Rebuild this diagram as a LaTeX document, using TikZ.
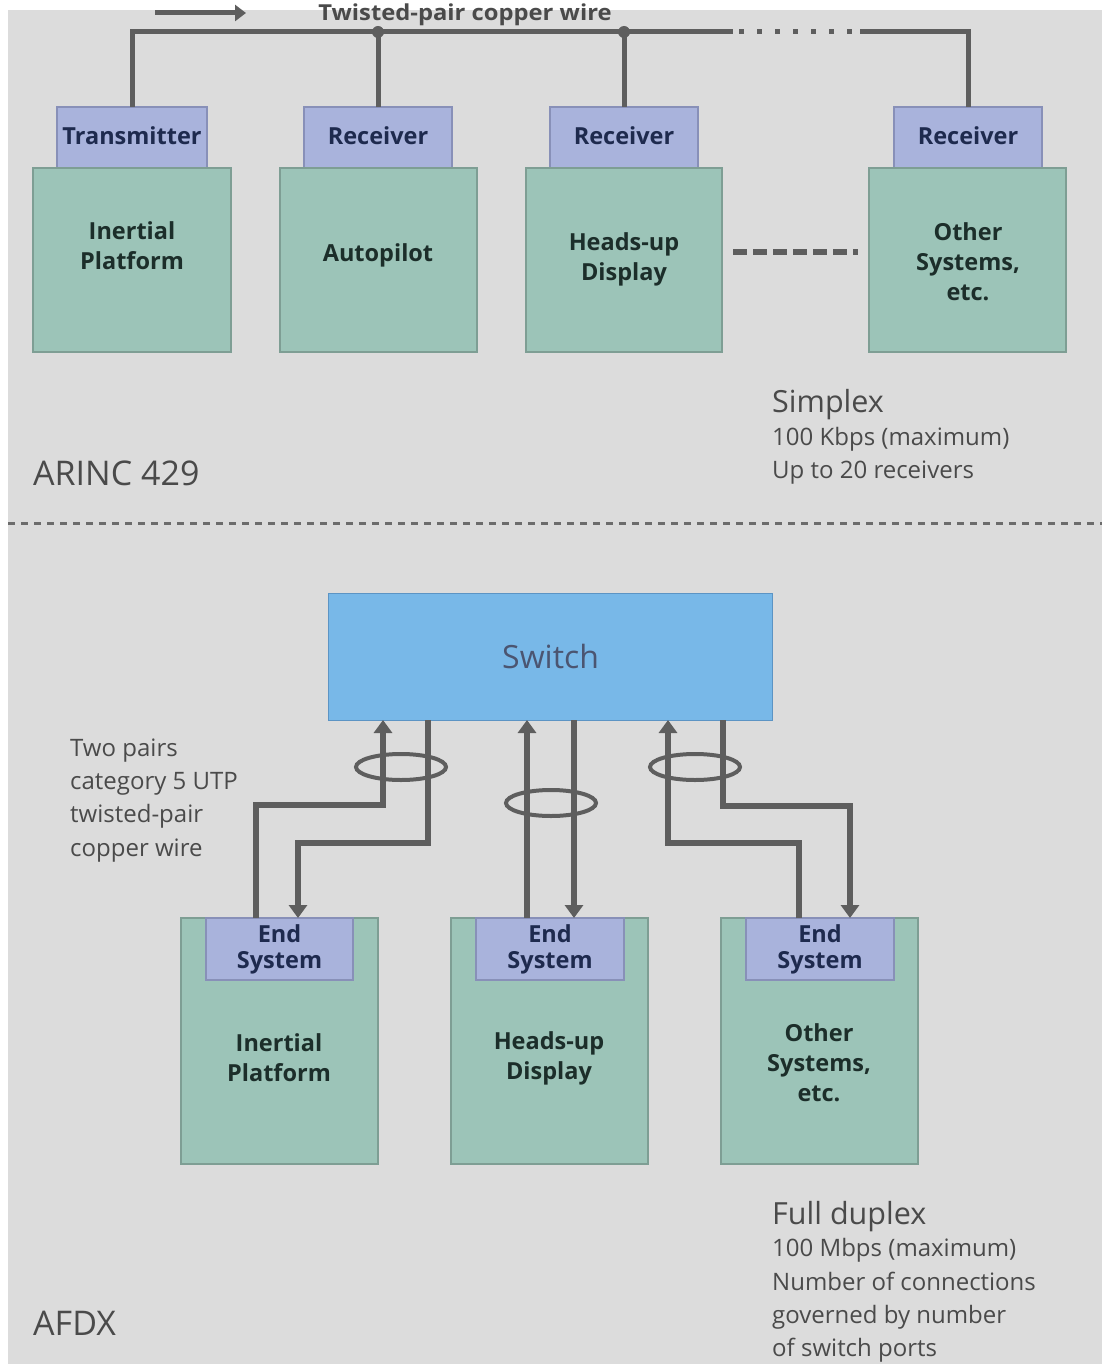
\documentclass[tikz,border=0pt]{standalone}
\usepackage{fontspec}
\setmainfont{Open Sans}
\usetikzlibrary{arrows.meta,calc}
\definecolor{bg}{HTML}{DCDCDC}
\definecolor{grn}{HTML}{9CC4B8}
\definecolor{grnb}{HTML}{7E9E94}
\definecolor{lav}{HTML}{A9B3DC}
\definecolor{lavb}{HTML}{8890B8}
\definecolor{swb}{HTML}{78B8E8}
\definecolor{swbb}{HTML}{5C94C4}
\definecolor{wirec}{HTML}{5E5E5E}
\definecolor{anno}{HTML}{4A4A4A}
\definecolor{navy}{HTML}{1E2A4E}
\definecolor{dgrn}{HTML}{1C2E2A}
\tikzset{
  greenbox/.style={draw=grnb, fill=grn, line width=1.2pt, anchor=north west, inner sep=0pt, outer sep=0pt},
  lavbox/.style={draw=lavb, fill=lav, line width=1.2pt, anchor=north west, inner sep=0pt, outer sep=0pt, font=\fontsize{23.5}{26}\selectfont\bfseries, text=navy},
  gtext/.style={font=\fontsize{23.5}{30}\selectfont\bfseries, text=dgrn, align=center},
  annot/.style={anchor=base west, text=anno, inner sep=0pt},
  small/.style={font=\fontsize{24}{24}\selectfont},
  mid/.style={font=\fontsize{30.5}{30}\selectfont},
  big/.style={font=\fontsize{34}{34}\selectfont},
  bus/.style={draw=wirec, line width=5pt},
  wire/.style={draw=wirec, line width=6pt},
  tip/.style={-{Triangle[width=18pt,length=13pt]}},
}
\begin{document}
\begin{tikzpicture}[x=1pt,y=-1pt]
\clip (0,0) rectangle (1102,1364);
\fill[white] (0,0) rectangle (1102,1364);
\fill[bg] (8,10) rectangle (1102,1364);

% top caption
\node[annot, font=\fontsize{22}{22}\selectfont\bfseries, text=anno, xscale=1.08, anchor=base] (cap) at (465,21) {Twisted-pair copper wire};
\coordinate (arrA) at (155,13);
\coordinate (arrB) at (246,13);
\draw[draw=wirec, line width=5pt, -{Triangle[width=16pt,length=11pt]}] (arrA) -- (arrB);

% ARINC 429 boxes
\node[lavbox, minimum width=150pt, minimum height=61pt] (tx) at (57,107) {\raisebox{3pt}{Transmitter}};
\node[lavbox, minimum width=148pt, minimum height=61pt] (rx1) at (304,107) {\raisebox{3pt}{Receiver}};
\node[lavbox, minimum width=148pt, minimum height=61pt] (rx2) at (550,107) {\raisebox{3pt}{Receiver}};
\node[lavbox, minimum width=148pt, minimum height=61pt] (rx3) at (894,107) {\raisebox{3pt}{Receiver}};

\node[greenbox, minimum width=198pt, minimum height=184pt] (ip) at (33,168) {};
\node[greenbox, minimum width=197pt, minimum height=184pt] (ap) at (280,168) {};
\node[greenbox, minimum width=196pt, minimum height=184pt] (hud) at (526,168) {};
\node[greenbox, minimum width=197pt, minimum height=184pt] (oth) at (869,168) {};
\node[gtext] (ipt) at (132,246) {Inertial\\Platform};
\node[gtext] (apt) at (378,255) {Autopilot};
\node[gtext] (hudt) at (624,259) {Heads-up\\Display};
\node[gtext] (otht) at (968,262) {Other\\Systems,\\etc.};

% bus
\coordinate (dotA) at (733,32);
\coordinate (dotB) at (860,32);
\draw[bus, line cap=butt] (tx.north) |- (dotA);
\draw[draw=wirec, line width=5pt, dash pattern=on 5pt off 13pt] (dotA) ++(6,0) -- (dotB);
\draw[bus] (dotB) -| (rx3.north);
\draw[bus] (rx1.north) -- (rx1.north |- dotA) coordinate (j1);
\draw[bus] (rx2.north) -- (rx2.north |- dotA) coordinate (j2);
\fill[wirec] (j1) circle (6pt);
\fill[wirec] (j2) circle (6pt);

% dashed between HUD and other
\draw[draw=wirec, line width=5pt, dash pattern=on 14pt off 6pt] ($(hud.east)+(11,-8)$) coordinate (dA) -- ($(oth.west)+(-11,-8)$) coordinate (dB);

% ARINC texts
\node[annot, mid] (simp) at (772,412) {Simplex};
\node[annot, small] (kbps) at (772,445) {100 Kbps (maximum)};
\node[annot, small] (upto) at (772,478) {Up to 20 receivers};
\node[annot, big] (arinc) at (33,485) {ARINC 429};

% separator
\coordinate (sepA) at (8,523);
\coordinate (sepB) at (1102,523);
\draw[draw=gray!85!black, line width=3pt, dash pattern=on 7pt off 6pt] (sepA) -- (sepB);

% AFDX
\node[draw=swbb, fill=swb, line width=1.2pt, anchor=north west, inner sep=0pt, minimum width=444pt, minimum height=127pt,
  font=\fontsize{32}{32}\selectfont, text=navy!80] (sw) at (328,593) {\raisebox{2pt}{Switch}};

\node[greenbox, minimum width=197pt, minimum height=246pt] (b1) at (181,918) {};
\node[greenbox, minimum width=197pt, minimum height=246pt] (b2) at (451,918) {};
\node[greenbox, minimum width=197pt, minimum height=246pt] (b3) at (721,918) {};
\node[lavbox, minimum width=147pt, minimum height=62pt, align=center, font=\fontsize{23.5}{26}\selectfont\bfseries] (es1) at (206,918) {End\\System};
\node[lavbox, minimum width=148pt, minimum height=62pt, align=center, font=\fontsize{23.5}{26}\selectfont\bfseries] (es2) at (476,918) {End\\System};
\node[lavbox, minimum width=148pt, minimum height=62pt, align=center, font=\fontsize{23.5}{26}\selectfont\bfseries] (es3) at (746,918) {End\\System};
\node[gtext] (b1t) at (279,1058) {Inertial\\Platform};
\node[gtext] (b2t) at (549,1058) {Heads-up\\Display};
\node[gtext] (b3t) at (819,1063) {Other\\Systems,\\etc.};

% connectors
\coordinate (e1u) at (256,918);  \coordinate (s1u) at (383,720);
\coordinate (s1d) at (428,720);  \coordinate (e1d) at (298,918);
\coordinate (e2u) at (527,918);  \coordinate (s2u) at (527,720);
\coordinate (s2d) at (574,720);  \coordinate (e2d) at (574,918);
\coordinate (e3u) at (799,918);  \coordinate (s3u) at (668,720);
\coordinate (s3d) at (723,720);  \coordinate (e3d) at (850,918);

\draw[wire, tip] (e1u) |- (383,805) -- (s1u);
\draw[wire, tip] (s1d) |- (298,843) -- (e1d);
\draw[wire, tip] (e2u) -- (s2u);
\draw[wire, tip] (s2d) -- (e2d);
\draw[wire, tip] (e3u) |- (668,843) -- (s3u);
\draw[wire, tip] (s3d) |- (850,806) -- (e3d);

\draw[draw=wirec, line width=4pt] (401,767) ellipse [x radius=45, y radius=13];
\draw[draw=wirec, line width=4pt] (551,803) ellipse [x radius=45, y radius=13];
\draw[draw=wirec, line width=4pt] (695,767) ellipse [x radius=45, y radius=13];

\node[annot, small] (tp1) at (70,756) {Two pairs};
\node[annot, small] (tp2) at (70,789) {category 5 UTP};
\node[annot, small] (tp3) at (70,822) {twisted-pair};
\node[annot, small] (tp4) at (70,856) {copper wire};

\node[annot, mid] (fd) at (772,1224) {Full duplex};
\node[annot, small] (mbps) at (772,1256) {100 Mbps (maximum)};
\node[annot, small] (nc) at (772,1290) {Number of connections};
\node[annot, small] (gb) at (772,1323) {governed by number};
\node[annot, small] (sp) at (772,1356) {of switch ports};
\node[annot, big] (afdx) at (33,1335) {AFDX};
\end{tikzpicture}
\end{document}
